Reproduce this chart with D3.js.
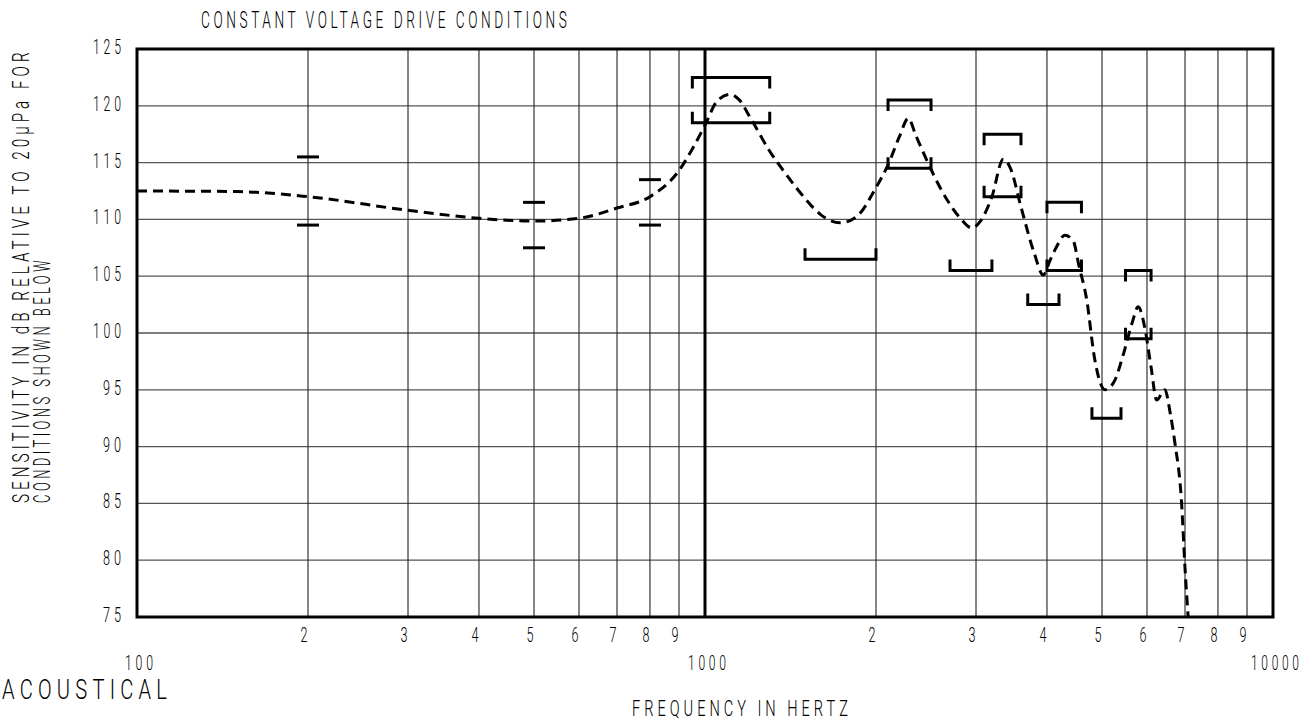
<!DOCTYPE html>
<html><head><meta charset="utf-8">
<script src="https://cdn.jsdelivr.net/npm/d3@7"></script>
<style>body{margin:0;background:#fff}svg{display:block}</style>
</head><body><svg id="c" width="1308" height="722"></svg>
<script>
// ---- data ----
const curveFreq = [100, 150, 200, 300, 400, 500, 600, 700, 800, 900, 950, 1000, 1050, 1107, 1150, 1200, 1300, 1400, 1500, 1600, 1730, 1850, 2000, 2100, 2200, 2280, 2350, 2450, 2600, 2800, 2950, 3050, 3200, 3350, 3450, 3600, 3800, 3940, 4050, 4150, 4300, 4450, 4550, 4700, 4850, 5060, 5250, 5450, 5650, 5790, 5950, 6100, 6240, 6450, 6600, 6720, 6900, 7000, 7090];
const curveDb = [112.5, 112.45, 112.0, 110.8, 110.1, 109.85, 110.1, 111.0, 112.0, 114.3, 116.2, 118.3, 120.4, 121.0, 120.5, 119.0, 116.0, 113.75, 111.85, 110.4, 109.7, 110.25, 112.8, 114.8, 117.3, 118.9, 117.4, 115.35, 112.7, 110.25, 109.25, 109.8, 112.0, 115.3, 114.5, 111.1, 107.0, 105.1, 106.4, 107.5, 108.6, 108.1, 106.0, 102.9, 97.8, 95.0, 95.7, 98.1, 100.9, 102.3, 100.4, 97.0, 94.1, 95.0, 92.8, 90.3, 85.2, 79.3, 75.0];

const tickBarFreq = [200, 500, 800];
const tickBarHigh = [115.5, 111.5, 113.5];
const tickBarLow = [109.5, 107.5, 109.5];

const upperLo = [950, 2100, 3100, 4000, 5500];
const upperHi = [1300, 2500, 3600, 4600, 6100];
const upperDb = [122.5, 120.5, 117.5, 111.5, 105.5];

const lowerLo = [950, 2100, 3100, 4000, 5500, 1500, 2700, 3700, 4800];
const lowerHi = [1300, 2500, 3600, 4600, 6100, 2000, 3200, 4200, 5400];
const lowerDb = [118.5, 114.5, 112, 105.5, 99.5, 106.5, 105.5, 102.5, 92.5];

const yTicks = [125, 120, 115, 110, 105, 100, 95, 90, 85, 80, 75];
const decades = [100, 1000, 10000];
const decadeLabels = ["100", "1000", "10000"];
const minorDigits = [2, 3, 4, 5, 6, 7, 8, 9];

const titleText = "CONSTANT VOLTAGE DRIVE CONDITIONS";
const yTitle1 = "SENSITIVITY IN dB RELATIVE TO 20μPa FOR";
const yTitle2 = "CONDITIONS SHOWN BELOW";
const xTitle = "FREQUENCY IN HERTZ";
const cornerText = "ACOUSTICAL";

// ---- drawing ----
const FONT = "Roboto, Inter, 'DejaVu Sans', sans-serif";
const svg = d3.select("#c");
const x = d3.scaleLog().domain([100, 10000]).range([137, 1273]);
const y = d3.scaleLinear().domain([75, 125]).range([617, 49]);

const minorFreqs = [];
decades.slice(0, 2).forEach(d => minorDigits.forEach(k => minorFreqs.push(d * k)));

// horizontal grid
svg.append("g").selectAll("line").data(yTicks.slice(1, -1)).join("line")
  .attr("x1", x(100)).attr("x2", x(10000))
  .attr("y1", d => y(d)).attr("y2", d => y(d))
  .attr("stroke", "#555").attr("stroke-width", 1.3);

// vertical grid
svg.append("g").selectAll("line").data(minorFreqs).join("line")
  .attr("x1", d => x(d)).attr("x2", d => x(d))
  .attr("y1", y(125)).attr("y2", y(75))
  .attr("stroke", "#222").attr("stroke-width", 1.1);

// 1000 Hz heavy line
svg.append("line").attr("x1", x(1000)).attr("x2", x(1000))
  .attr("y1", y(125)).attr("y2", y(75))
  .attr("stroke", "#000").attr("stroke-width", 3);

// frame
svg.append("rect").attr("x", x(100)).attr("y", y(125))
  .attr("width", x(10000) - x(100)).attr("height", y(75) - y(125))
  .attr("fill", "none").attr("stroke", "#000").attr("stroke-width", 3);

// clip
svg.append("clipPath").attr("id", "plot").append("rect")
  .attr("x", x(100)).attr("y", y(125))
  .attr("width", x(10000) - x(100)).attr("height", y(75) - y(125));

// curve
const pts = curveFreq.map((f, i) => [f, curveDb[i]]);
const line = d3.line().x(d => x(d[0])).y(d => y(d[1])).curve(d3.curveMonotoneX);
svg.append("path").datum(pts).attr("d", line)
  .attr("clip-path", "url(#plot)")
  .attr("fill", "none").attr("stroke", "#000").attr("stroke-width", 3)
  .attr("stroke-dasharray", "10,6");

// tolerance dashes
const tb = [];
tickBarFreq.forEach((f, i) => { tb.push([f, tickBarHigh[i]]); tb.push([f, tickBarLow[i]]); });
svg.append("g").selectAll("line").data(tb).join("line")
  .attr("x1", d => x(d[0]) - 11).attr("x2", d => x(d[0]) + 11)
  .attr("y1", d => y(d[1])).attr("y2", d => y(d[1]))
  .attr("stroke", "#000").attr("stroke-width", 3);

// brackets
const LEG = 11;
const bracketPath = (lo, hi, db, dir) => {
  const yy = y(db), x0 = x(lo), x1 = x(hi);
  return `M${x0},${yy + dir * LEG}L${x0},${yy}L${x1},${yy}L${x1},${yy + dir * LEG}`;
};
const brk = [];
upperLo.forEach((lo, i) => brk.push(bracketPath(lo, upperHi[i], upperDb[i], 1)));
lowerLo.forEach((lo, i) => brk.push(bracketPath(lo, lowerHi[i], lowerDb[i], -1)));
svg.append("g").selectAll("path").data(brk).join("path")
  .attr("d", d => d).attr("fill", "none").attr("stroke", "#000")
  .attr("stroke-width", 3).attr("stroke-linejoin", "miter");

// condensed CAD-like lettering: natural text squeezed horizontally by a transform
function cad(s, px, py, o) {
  const t = svg.append("text").text(s).attr("x", 0).attr("y", 0)
    .attr("font-family", FONT).attr("font-size", o.size).attr("font-weight", 300)
    .attr("fill", "#000").attr("letter-spacing", (o.spacing || 0) + "px")
    .attr("text-anchor", o.anchor || "start");
  const node = t.node();
  let w = node.getComputedTextLength();
  // remove trailing letter-spacing from the measured width
  w -= (o.spacing || 0);
  const sx = o.width / w;
  let dx = 0;
  if ((o.anchor || "start") === "end") dx = (o.spacing || 0) * sx;
  if (o.anchor === "middle") dx = (o.spacing || 0) * sx / 2;
  const rot = o.rot ? ` rotate(${o.rot})` : "";
  t.attr("transform", `translate(${px},${py})${rot} translate(${dx},0) scale(${sx},1)`);
  return t;
}

// y tick labels
yTicks.forEach(d => cad(String(d), 121, y(d) + 5,
  { size: 19.5, spacing: 6, width: String(d).length * 10 - 2, anchor: "end" }));

// minor x labels
minorFreqs.forEach(d => cad(String(d / (d < 1000 ? 100 : 1000)), x(d) - 4, 642,
  { size: 19.5, width: 7, anchor: "middle" }));

// decade labels
decades.forEach((d, i) => cad(decadeLabels[i], x(d) + 2, 670,
  { size: 19.5, spacing: 6, width: decadeLabels[i].length * 10 - 2, anchor: "middle" }));

// titles
cad(titleText, 201, 28, { size: 23, spacing: 6, width: 366 });
cad(cornerText, 2, 699, { size: 27, spacing: 7, width: 165 });
cad(xTitle, 632, 716, { size: 22, spacing: 6, width: 216 });
cad(yTitle1, 29, 503, { size: 23, spacing: 6, width: 451, rot: -90 });
cad(yTitle2, 50, 503, { size: 23, spacing: 6, width: 243, rot: -90 });
</script></body></html>
